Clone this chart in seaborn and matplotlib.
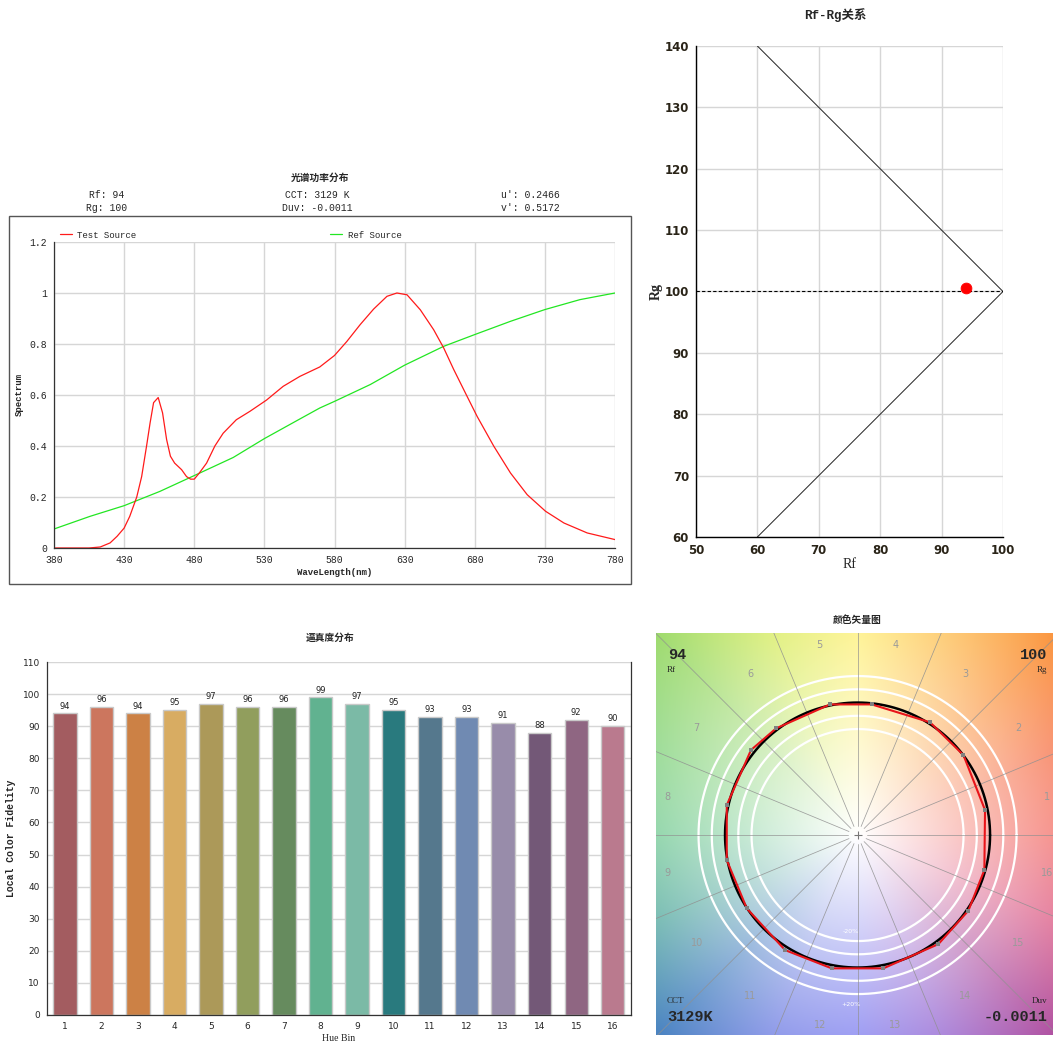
import numpy as np
import matplotlib as mpl
import matplotlib.pyplot as plt
import pandas as pd
import seaborn as sns
from matplotlib.patches import Rectangle

sns.set_style("white")
plt.rcParams["font.family"] = ["DejaVu Sans", "Noto Sans CJK SC"]
MONO = ["Liberation Mono", "Noto Sans CJK SC"]
SERIF = ["Liberation Serif", "Noto Sans CJK SC"]

# ---- spectrum ----
test_wl = [380, 405, 413, 420, 425, 430, 434, 439, 442.5, 446, 448.5, 451, 454.3, 457.4, 460.3, 463,
           466, 471, 474.5, 477.4, 480, 483.6, 488.8, 494.7, 500.6, 510, 519.7, 531.5, 543.4, 555.3,
           569.5, 580, 588.8, 598.3, 607.9, 617.4, 624.5, 631.7, 641.2, 650.7, 657.9, 665, 674.5,
           681.7, 693.6, 705.5, 717.4, 730.5, 743.6, 760.2, 780]
test_val = [0, 0, 0.004, 0.02, 0.046, 0.078, 0.124, 0.2, 0.28, 0.4, 0.49, 0.57, 0.59, 0.53, 0.425, 0.36,
            0.333, 0.307, 0.28, 0.27, 0.27, 0.294, 0.333, 0.4, 0.45, 0.503, 0.536, 0.58, 0.634, 0.673,
            0.71, 0.755, 0.81, 0.876, 0.937, 0.987, 1.0, 0.993, 0.934, 0.856, 0.784, 0.7, 0.595,
            0.516, 0.399, 0.294, 0.209, 0.144, 0.098, 0.059, 0.033]
ref_wl = [380, 405.6, 430, 455.5, 480, 507.8, 530, 555.3, 569.5, 580, 605.5, 630, 657.9, 680, 705.5,
          730, 755, 780]
ref_val = [0.0745, 0.124, 0.166, 0.222, 0.284, 0.355, 0.429, 0.506, 0.549, 0.575, 0.641, 0.717, 0.791,
           0.837, 0.889, 0.935, 0.974, 1.0]

# ---- Rf / Rg ----
rf_value = 94
rg_value = 100.6
gamut_rf = [60, 100, 60]
gamut_rg = [140, 100, 60]

# ---- local fidelity per hue bin ----
hue_bins = ["1", "2", "3", "4", "5", "6", "7", "8", "9", "10", "11", "12", "13", "14", "15", "16"]
fidelity = [94, 96, 94, 95, 97, 96, 96, 99, 97, 95, 93, 93, 91, 88, 92, 90]
bin_colors = ["#A35C60", "#CC765E", "#CC8145", "#D8AC62", "#AC9959", "#919E5D", "#668B5E", "#61B290",
              "#7BBAA6", "#297A7E", "#55788D", "#708AB2", "#988CAA", "#735877", "#8F6682", "#BA7A8E"]

# ---- colour vector graphic: test vertices (normalised) ----
cvg_x = [0.962, 0.799, 0.547, 0.107, -0.208, -0.615, -0.804, -0.987,
         -0.987, -0.836, -0.547, -0.195, 0.195, 0.610, 0.836, 0.957]
cvg_y = [0.189, 0.604, 0.851, 0.986, 0.986, 0.805, 0.642, 0.226,
         -0.189, -0.553, -0.868, -1.006, -1.006, -0.823, -0.571, -0.264]

# background hue anchors (deg -> colour at r=1.5)
bg_angles = [0, 22.5, 45, 67.5, 90, 112.5, 135, 157.5, 180, 202.5, 225, 247.5, 270, 292.5, 315, 337.5, 360]
bg_colors = ["#f6948f", "#f99c80", "#fcb478", "#fed488", "#fff49a", "#e4f290", "#bce69a", "#a8e0a4",
             "#98d8b0", "#88c4bc", "#80a8d4", "#9aa4ec", "#a0a0f4", "#b494e0", "#c884bc", "#e88ca8", "#f6948f"]

W, H = 1054, 1041


def fig_rect(x0, y0, x1, y1):
    return [x0 / W, 1 - y1 / H, (x1 - x0) / W, (y1 - y0) / H]


fig = plt.figure(figsize=(W / 100, H / 100), dpi=100)
grid_c = "#d6d6d6"

# ================= spectrum =================
fig.patches.append(Rectangle((9 / W, 1 - 584 / H), 622 / W, 368 / H, transform=fig.transFigure,
                             fill=False, ec="#555555", lw=1))
fig.text(320 / W, 1 - 178 / H, "光谱功率分布", ha="center", va="center", fontsize=7, weight="bold",
         family=MONO)
header = [(107, "Rf: 94", "Rg: 100"), (317, "CCT: 3129 K", "Duv: -0.0011"), (530, "u': 0.2466", "v': 0.5172")]
for x, top, bottom in header:
    fig.text(x / W, 1 - 195 / H, top, ha="center", va="center", fontsize=7, family=MONO)
    fig.text(x / W, 1 - 208 / H, bottom, ha="center", va="center", fontsize=7, family=MONO)

ax = fig.add_axes(fig_rect(54, 242, 615, 548))
sns.lineplot(x=ref_wl, y=ref_val, ax=ax, color="#22e622", lw=0.9, label="Ref Source")
sns.lineplot(x=test_wl, y=test_val, ax=ax, color="#ff1a1a", lw=0.9, label="Test Source")
ax.set_xlim(380, 780)
ax.set_ylim(0, 1.2)
ax.set_xticks(range(380, 781, 50))
ax.set_yticks([0, 0.2, 0.4, 0.6, 0.8, 1.0, 1.2])
ax.set_yticklabels(["0", "0.2", "0.4", "0.6", "0.8", "1", "1.2"])
ax.grid(True, color=grid_c, lw=1)
for s in ["top", "right"]:
    ax.spines[s].set_visible(False)
for s in ["left", "bottom"]:
    ax.spines[s].set_color("#333333")
    ax.spines[s].set_linewidth(0.9)
ax.tick_params(labelsize=7, length=3, width=0.7, color="#333333", pad=2, labelfontfamily="Liberation Mono")
ax.set_xlabel("WaveLength(nm)", fontsize=6.5, weight="bold", family=MONO, labelpad=2)
ax.set_ylabel("Spectrum", fontsize=6.5, weight="bold", family=MONO, labelpad=4)
handles, labels = ax.get_legend_handles_labels()
ax.legend(handles[::-1], labels[::-1], ncol=2, loc="center left", bbox_to_anchor=(60 / W, 1 - 235 / H),
          bbox_transform=fig.transFigure, frameon=False, prop={"family": MONO, "size": 6.5},
          handlelength=1.3, handletextpad=0.6, columnspacing=21.5, borderpad=0, borderaxespad=0)

# ================= Rf - Rg =================
ax2 = fig.add_axes(fig_rect(696, 46, 1003, 537))
sns.lineplot(x=gamut_rf, y=gamut_rg, ax=ax2, sort=False, color="#222222", lw=0.7, estimator=None)
sns.lineplot(x=[50, 100], y=[100, 100], ax=ax2, color="black", lw=0.8, linestyle=(0, (3, 2)))
sns.scatterplot(x=[rf_value], y=[rg_value], ax=ax2, color="red", s=60, edgecolor="red", zorder=5)
ax2.set_xlim(50, 100)
ax2.set_ylim(60, 140)
ax2.set_xticks(range(50, 101, 10))
ax2.set_yticks(range(60, 141, 10))
ax2.grid(True, color=grid_c, lw=1)
for s in ["top", "right"]:
    ax2.spines[s].set_visible(False)
for s in ["left", "bottom"]:
    ax2.spines[s].set_color("black")
    ax2.spines[s].set_linewidth(1)
ax2.tick_params(labelsize=8.5, length=3, width=0.8, pad=2)
for t in ax2.get_xticklabels() + ax2.get_yticklabels():
    t.set_fontweight("bold")
    t.set_color("#2a2418")
ax2.set_xlabel("Rf", fontsize=10, family=SERIF, labelpad=1)
ax2.set_ylabel("Rg", fontsize=10, family=SERIF, weight="bold", labelpad=1)
fig.text(835 / W, 1 - 15 / H, "Rf-Rg关系", ha="center", va="center", fontsize=9, weight="bold",
         family=MONO)

# ================= local fidelity bars =================
ax3 = fig.add_axes(fig_rect(46.7, 662, 631, 1015))
df = pd.DataFrame({"bin": hue_bins, "fidelity": fidelity})
sns.barplot(data=df, x="bin", y="fidelity", hue="bin", palette=dict(zip(hue_bins, bin_colors)),
            legend=False, width=0.64, edgecolor="#c9c9c9", linewidth=1, saturation=1, ax=ax3)
for cont in ax3.containers:
    ax3.bar_label(cont, fontsize=6, padding=2, color="#222222")
ax3.set_ylim(0, 110)
ax3.set_xlim(-0.5, 15.5)
ax3.set_yticks(range(0, 111, 10))
ax3.yaxis.grid(True, color=grid_c, lw=1)
ax3.set_axisbelow(True)
ax3.spines["top"].set_visible(False)
for s in ["left", "bottom", "right"]:
    ax3.spines[s].set_color("#333333")
    ax3.spines[s].set_linewidth(0.9)
ax3.set_xticks(np.arange(-0.5, 15.6, 1), minor=True)
ax3.tick_params(axis="x", which="major", length=0, labelsize=6.5, pad=5)
ax3.tick_params(axis="x", which="minor", length=3, width=0.7, color="#333333")
ax3.tick_params(axis="y", labelsize=6.5, length=3, width=0.7, color="#333333", pad=2)
ax3.set_xlabel("Hue Bin", fontsize=7, family=SERIF, labelpad=2)
ax3.set_ylabel("Local Color Fidelity", fontsize=7, weight="bold", family=MONO, labelpad=5)
fig.text(330 / W, 1 - 638 / H, "逼真度分布", ha="center", va="center", fontsize=7, weight="bold",
         family=MONO)

# ================= colour vector graphic =================
ax4 = fig.add_axes(fig_rect(656, 633, 1053, 1035))
x0, x1, y0, y1 = -1.521, 1.475, -1.509, 1.525
gx, gy = np.meshgrid(np.linspace(x0, x1, 400), np.linspace(y0, y1, 400))
ang = np.degrees(np.arctan2(gy, gx)) % 360
rad = np.hypot(gx, gy)
rgb = np.array([mpl.colors.to_rgb(c) for c in bg_colors])
anchor = np.stack([np.interp(ang, bg_angles, rgb[:, k]) for k in range(3)], axis=-1)
t = np.clip(rad / 1.5, 0, 1.45)[..., None]
img = np.clip(1 - t * (1 - anchor), 0, 1)
ax4.imshow(img, extent=[x0, x1, y0, y1], origin="lower", interpolation="bilinear", zorder=0, aspect="auto")

theta = np.linspace(0, 2 * np.pi, 361)
for r in [0.8, 0.9, 1.1, 1.2]:
    ax4.plot(r * np.cos(theta), r * np.sin(theta), color="white", lw=1.6, zorder=1)
for k in range(16):
    a = np.radians(22.5 * k)
    ax4.plot([0.07 * np.cos(a), 3 * np.cos(a)], [0.07 * np.sin(a), 3 * np.sin(a)], color="#909090",
             lw=0.55, alpha=0.85, zorder=2)
ax4.plot([0], [0], marker="+", color="#777777", ms=6, mew=0.8, zorder=3)
ax4.plot(np.cos(theta), np.sin(theta), color="black", lw=1.8, zorder=4)
sns.lineplot(x=cvg_x + cvg_x[:1], y=cvg_y + cvg_y[:1], ax=ax4, sort=False, estimator=None,
             color="#e8141a", lw=1.5, zorder=5)
sns.scatterplot(x=cvg_x, y=cvg_y, ax=ax4, color="#808080", s=9, marker="s", linewidth=0, zorder=6)
for k, lab in enumerate(hue_bins):
    a = np.radians(11.25 + 22.5 * k)
    ax4.text(1.46 * np.cos(a), 1.46 * np.sin(a), lab, ha="center", va="center", fontsize=7,
             color="#9a9a9a")
ax4.text(-0.05, -0.73, "-20%", ha="center", va="center", fontsize=4.5, color="white")
ax4.text(-0.05, -1.28, "+20%", ha="center", va="center", fontsize=4.5, color="white")
ax4.set_xlim(x0, x1)
ax4.set_ylim(y0, y1)
ax4.set_xticks([])
ax4.set_yticks([])
for s in ax4.spines.values():
    s.set_visible(False)

fig.text(668 / W, 1 - 655 / H, "94", ha="left", va="center", fontsize=11, weight="bold", family=MONO)
fig.text(667 / W, 1 - 670 / H, "Rf", ha="left", va="center", fontsize=6.5, family=SERIF)
fig.text(1047 / W, 1 - 655 / H, "100", ha="right", va="center", fontsize=11, weight="bold", family=MONO)
fig.text(1047 / W, 1 - 670 / H, "Rg", ha="right", va="center", fontsize=6.5, family=SERIF)
fig.text(667 / W, 1 - 1001 / H, "CCT", ha="left", va="center", fontsize=6.5, family=SERIF)
fig.text(667 / W, 1 - 1017 / H, "3129K", ha="left", va="center", fontsize=11, weight="bold", family=MONO)
fig.text(1047 / W, 1 - 1001 / H, "Duv", ha="right", va="center", fontsize=6.5, family=SERIF)
fig.text(1047 / W, 1 - 1017 / H, "-0.0011", ha="right", va="center", fontsize=11, weight="bold",
         family=MONO)
fig.text(857 / W, 1 - 620 / H, "颜色矢量图", ha="center", va="center", fontsize=7, weight="bold",
         family=MONO)

fig.savefig("out.png", dpi=100)
